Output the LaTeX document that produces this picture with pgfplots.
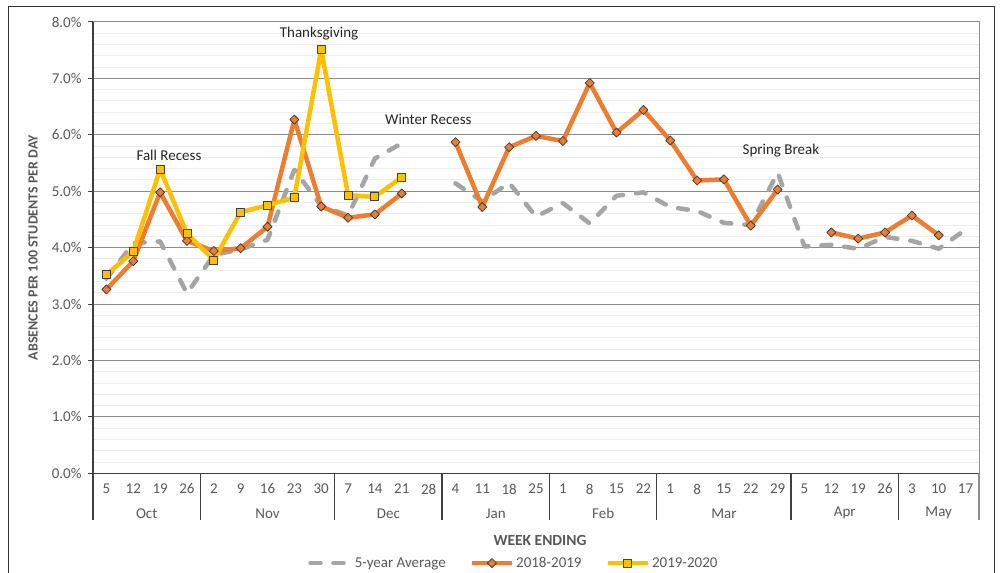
\documentclass[border=0pt]{standalone}
\usepackage{pgfplots}
\pgfplotsset{compat=1.18}
\usepackage{pgfplotstable}
\usepackage{fontspec}
\setmainfont{Carlito}

\definecolor{avggray}{HTML}{A5A5A5}
\definecolor{orng}{HTML}{ED7D31}
\definecolor{gold}{HTML}{FFC000}
\definecolor{txt}{HTML}{595959}
\definecolor{majgrid}{HTML}{8C8C8C}
\definecolor{mingrid}{HTML}{EDEDED}
\definecolor{edge}{HTML}{404040}

% week index, 5-year average, 2018-2019, 2019-2020 (percent)
\pgfplotstableread{
i  avg   s1819 s1920
0  3.45  3.26  3.52
1  4.08  3.76  3.93
2  4.11  4.98  5.39
3  3.19  4.12  4.25
4  3.87  3.94  3.78
5  3.97  3.99  4.63
6  4.14  4.37  4.75
7  5.38  6.27  4.89
8  4.74  4.73  7.51
9  4.57  4.53  4.93
10 5.58  4.59  4.90
11 5.85  4.96  5.25
12 nan   nan   nan
13 5.14  5.87  nan
14 4.82  4.72  nan
15 5.15  5.78  nan
16 4.55  5.98  nan
17 4.79  5.89  nan
18 4.43  6.92  nan
19 4.92  6.04  nan
20 4.98  6.44  nan
21 4.72  5.90  nan
22 4.65  5.19  nan
23 4.44  5.21  nan
24 4.40  4.39  nan
25 5.33  5.03  nan
26 4.02  nan   nan
27 4.05  4.27  nan
28 3.98  4.16  nan
29 4.19  4.27  nan
30 4.12  4.57  nan
31 3.98  4.22  nan
32 4.32  nan   nan
}\absences

\newcommand{\lbl}{\fontsize{15bp}{18bp}\selectfont}

\begin{document}
\begin{tikzpicture}[x=1bp,y=1bp]
\path[use as bounding box] (0,0) rectangle (1003,573);
\draw[line width=1.3bp, black!80] (8.3,-3) -- (8.3,566.5) -- (994.5,566.5) -- (994.5,-3);
\begin{axis}[
  at={(93bp,99.7bp)}, anchor=south west,
  scale only axis, width=886bp, height=451.3bp,
  xmin=-0.5, xmax=32.5, ymin=0, ymax=8,
  clip=false,
  unbounded coords=jump,
  axis line style={majgrid, line width=1bp},
  xtick={0,...,32},
  xticklabels={5,12,19,26,2,9,16,23,30,7,14,21,28,4,11,18,25,1,8,15,22,1,8,15,22,29,5,12,19,26,3,10,17},
  xtick style={draw=none},
  ytick={0,1,...,8},
  minor y tick num=4,
  ymajorgrids, yminorgrids,
  major grid style={majgrid, line width=1bp},
  minor grid style={mingrid, line width=1bp},
  tick pos=left, tick align=outside,
  major tick length=5bp, minor tick length=0bp,
  ytick style={draw=edge, line width=1bp},
  /pgf/number format/assume math mode=true,
  yticklabel={\pgfmathprintnumber[fixed,fixed zerofill,precision=1]{\tick}\%},
  every tick label/.append style={font=\lbl, text=txt},
  xticklabel style={yshift=-2bp},
  yticklabel style={xshift=-3bp},
  ylabel={ABSENCES PER 100 STUDENTS PER DAY},
  ylabel style={at={(axis description cs:-0.0677,0.5)}, anchor=center,
    font=\bfseries\fontsize{14bp}{16bp}\selectfont, text=txt},
  xlabel={WEEK ENDING},
  xlabel style={at={(axis description cs:0.5045,-0.149)}, anchor=center,
    font=\bfseries\fontsize{15.5bp}{18bp}\selectfont, text=txt},
  legend columns=-1,
  legend style={at={(axis description cs:0.475,-0.199)}, anchor=center,
    draw=none, fill=none, font=\lbl, text=txt,
    /tikz/every even column/.append style={column sep=22bp}},
  legend image code/.code={\draw[mark repeat=2,mark phase=2,#1]
    plot coordinates {(0bp,0bp) (20bp,0bp) (40bp,0bp)};},
]
\addplot[avggray, line width=4.5bp, line cap=round, line join=round,
  dash pattern=on 10bp off 13bp, no markers]
  table[x=i, y=avg]{\absences};
\addlegendentry{5-year Average}
\addplot[orng, line width=4.5bp, line join=round,
  mark=square*, mark size=3.2bp,
  mark options={rotate=45, solid, fill=orng, draw=edge, line width=0.8bp}]
  table[x=i, y=s1819]{\absences};
\addlegendentry{2018-2019}
\addplot[gold, line width=4.5bp, line join=round,
  mark=square*, mark size=4bp,
  mark options={solid, fill=gold, draw=edge, line width=0.9bp}]
  table[x=i, y=s1920]{\absences};
\addlegendentry{2019-2020}

% darker left and bottom axis lines
\draw[edge, line width=1.2bp] (axis description cs:0,1) -- (axis description cs:0,0) -- (axis description cs:1,0);
% month separators and names
\pgfplotsinvokeforeach{-0.5,3.5,8.5,12.5,16.5,20.5,25.5,29.5}{
  \draw[edge, line width=1.2bp] (axis cs:#1,0) -- ++(0bp,-47bp);}
\draw[majgrid, line width=1.2bp] (axis cs:32.5,0) -- ++(0bp,-47bp);
\node[font=\lbl, text=txt] at ([yshift=-40bp]axis cs:1.5,0) {Oct};
\node[font=\lbl, text=txt] at ([yshift=-40bp]axis cs:6,0) {Nov};
\node[font=\lbl, text=txt] at ([yshift=-40bp]axis cs:10.5,0) {Dec};
\node[font=\lbl, text=txt] at ([yshift=-40bp]axis cs:14.5,0) {Jan};
\node[font=\lbl, text=txt] at ([yshift=-40bp]axis cs:18.5,0) {Feb};
\node[font=\lbl, text=txt] at ([yshift=-40bp]axis cs:23,0) {Mar};
\node[font=\lbl, text=txt] at ([yshift=-40bp]axis cs:27.5,0) {Apr};
\node[font=\lbl, text=txt] at ([yshift=-40bp]axis cs:31,0) {May};
% annotations
\node[font=\lbl, text=black!85] at (axis cs:2.33,5.64) {Fall Recess};
\node[font=\lbl, text=black!85] at (axis cs:7.92,7.79) {Thanksgiving};
\node[font=\lbl, text=black!85] at (axis cs:11.99,6.27) {Winter Recess};
\node[font=\lbl, text=black!85] at (axis cs:25.12,5.72) {Spring Break};
\end{axis}
\end{tikzpicture}
\end{document}
